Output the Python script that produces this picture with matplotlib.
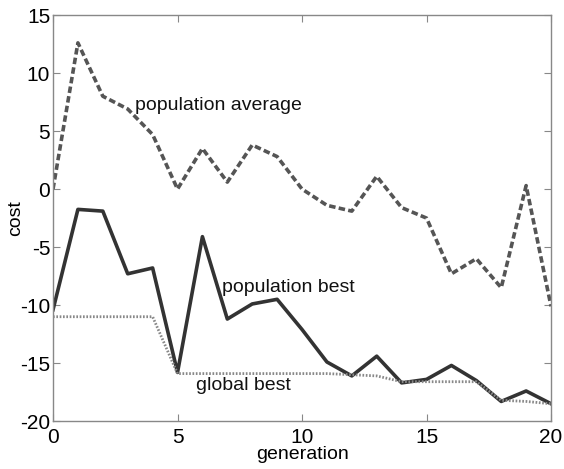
import matplotlib
matplotlib.use("Agg")
import matplotlib.pyplot as plt

generation = list(range(21))
pop_average = [0.0, 12.6, 8.0, 6.9, 4.7, 0.0, 3.5, 0.6, 3.8, 2.8, 0.0,
               -1.4, -1.9, 1.1, -1.6, -2.5, -7.3, -6.0, -8.5, 0.3, -10.1]
pop_best = [-10.4, -1.75, -1.9, -7.3, -6.8, -15.8, -4.1, -11.2, -9.9, -9.5, -12.1,
            -14.9, -16.1, -14.4, -16.7, -16.4, -15.2, -16.5, -18.3, -17.4, -18.5]
global_best = [-11.0, -11.0, -11.0, -11.0, -11.0, -15.9, -15.9, -15.9, -15.9, -15.9, -15.9,
               -15.9, -16.0, -16.1, -16.6, -16.6, -16.6, -16.6, -18.2, -18.3, -18.5]

plt.rcParams['font.family'] = ['Liberation Sans', 'DejaVu Sans']
plt.rcParams['axes.unicode_minus'] = False

fig = plt.figure(figsize=(5.64, 4.69), dpi=100)
ax = fig.add_axes([0.094, 0.102, 0.883, 0.866])

ax.plot(generation, pop_average, color='#555555', lw=2.6, ls=(0, (1.8, 0.9)))
ax.plot(generation, pop_best, color='#333333', lw=2.6)
ax.plot(generation, global_best, color='#888888', lw=2.0, ls=(0, (0.6, 0.6)))

ax.set_xlim(0, 20)
ax.set_ylim(-20, 15)
ax.set_xticks([0, 5, 10, 15, 20])
ax.set_yticks([-20, -15, -10, -5, 0, 5, 10, 15])
ax.tick_params(direction='in', top=True, right=True, length=5, width=0.8,
               color='#888888', labelsize=15)
ax.tick_params(axis='x', pad=5)
ax.tick_params(axis='y', pad=2)
for s in ax.spines.values():
    s.set_color('#888888')
    s.set_linewidth(1.0)

ax.set_xlabel('generation', fontsize=14)
ax.set_ylabel('cost', fontsize=14)
ax.xaxis.set_label_coords(0.5, -0.062)
ax.yaxis.set_label_coords(-0.058, 0.5)

ax.text(3.3, 7.2, 'population average', fontsize=14, va='center', ha='left', color='#111111')
ax.text(6.8, -8.5, 'population best', fontsize=14, va='center', ha='left', color='#111111')
ax.text(5.75, -16.9, 'global best', fontsize=14, va='center', ha='left', color='#111111')

fig.savefig('out.png', dpi=100)
